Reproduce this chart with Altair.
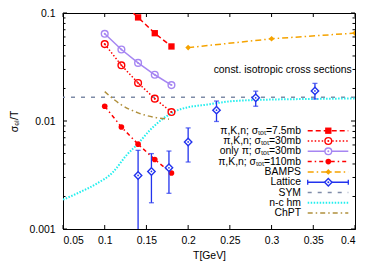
import altair as alt
import pandas as pd

# ---------------- data ----------------
x_sim = [0.12, 0.14, 0.16, 0.18]
s75 = [0.125, 0.091, 0.065, 0.049]
x_sim5 = [0.10, 0.12, 0.14, 0.16, 0.18]
s30 = [0.0515, 0.0328, 0.0225, 0.0161, 0.0121]
pi30 = [0.0642, 0.0459, 0.0345, 0.0268, 0.0215]
s110 = [0.0137, 0.0088, 0.0061, 0.0044, 0.0033]

bamps_x = [0.2, 0.3, 0.4]
bamps_y = [0.0478, 0.0577, 0.0652]

lat_x = [0.14, 0.156, 0.177, 0.2, 0.234, 0.281, 0.352]
lat_y = [0.00313, 0.00341, 0.00369, 0.0064, 0.0126, 0.0164, 0.019]
lat_lo = [0.0008, 0.00175, 0.00214, 0.00417, 0.0099, 0.0137, 0.016]
lat_hi = [0.00535, 0.00499, 0.00527, 0.00863, 0.0153, 0.0189, 0.0223]

sym_y = [0.0166]

nc_x = [0.05, 0.07, 0.09, 0.11, 0.126, 0.14, 0.154, 0.17, 0.19, 0.226, 0.25, 0.3, 0.35, 0.4]
nc_y = [0.00187, 0.00219, 0.00262, 0.00337, 0.00481, 0.00618, 0.0082, 0.01055, 0.0128,
        0.0143, 0.0152, 0.0158, 0.0160, 0.0162]

chpt_x = [0.1, 0.12, 0.14, 0.16, 0.177]
chpt_y = [0.0187, 0.0141, 0.0119, 0.0108, 0.0104]

x_ticks = [0.05, 0.1, 0.15, 0.2, 0.25, 0.3, 0.35, 0.4]
y_major = [0.001, 0.01, 0.1]
y_minor = [m * d for d in (0.001, 0.01) for m in range(2, 10)]

note_text = ["const. isotropic cross sections"]
note_x = [0.396]
note_y = [0.0297]

legend_labels = [
    "π,K,n; σₜₒₜ=7.5mb",
    "π,K,n; σₜₒₜ=30mb",
    "only π; σₜₒₜ=30mb",
    "π,K,n; σₜₒₜ=110mb",
    "BAMPS",
    "Lattice",
    "SYM",
    "n-c hm",
    "ChPT",
]

# ---------------- styles ----------------
RED = "#ff0000"
PURPLE = "#a686f2"
ORANGE = "#f5a300"
BLUE = "#2233ee"
GREY = "#7f8ca8"
CYAN = "#22eeee"
OLIVE = "#b0903c"
FONT = "Liberation Sans"
FS = 10.4
W, H = 292, 216

XS = alt.Scale(domain=[0.05, 0.4], nice=False, zero=False)
YS = alt.Scale(type="log", domain=[0.001, 0.1], nice=False)
XA = alt.Axis(values=x_ticks, format="~g", ticks=False, tickSize=0, grid=False,
              labelPadding=6, labelFont=FONT, labelFontSize=FS, labelColor="black",
              domainColor="black", title="T[GeV]", titleFont=FONT, titleFontSize=FS,
              titleFontWeight="normal", titleX=W / 2, titleY=26, titleBaseline="middle")
YA = alt.Axis(values=y_major, format="~g", ticks=False, tickSize=0, grid=False,
              labelPadding=8, labelFont=FONT, labelFontSize=FS, labelColor="black",
              domainColor="black", title="σₑₗ/T", titleFont=FONT, titleFontSize=FS,
              titleFontWeight="normal", titleX=-49, titleY=H / 2, titleAngle=-90,
              titleAlign="center", titleBaseline="middle")


def X(f="x"):
    return alt.X(f"{f}:Q", scale=XS, axis=XA)


def Y(f="y"):
    return alt.Y(f"{f}:Q", scale=YS, axis=YA)


def df(xs, ys):
    return pd.DataFrame({"x": xs, "y": ys})


layers = []


def series(xs, ys, color, dash, shape, filled, size, sw=1.5, dot=False, interp="linear"):
    d = df(xs, ys)
    line_kw = dict(color=color, strokeWidth=sw, clip=True, interpolate=interp)
    if dash:
        line_kw["strokeDash"] = dash
    layers.append(alt.Chart(d).mark_line(**line_kw).encode(x=X(), y=Y()))
    if shape:
        layers.append(alt.Chart(d).mark_point(shape=shape, filled=filled, size=size, color=color,
                                              strokeWidth=1.4, opacity=1, clip=True)
                      .encode(x=X(), y=Y()))
        if dot:
            layers.append(alt.Chart(d).mark_point(shape="circle", filled=True, size=4, color=color,
                                                  opacity=1, clip=True).encode(x=X(), y=Y()))


# SYM
layers.append(alt.Chart(pd.DataFrame({"y": sym_y})).mark_rule(color=GREY, strokeWidth=1.5,
                                                               strokeDash=[4, 6])
              .encode(y=Y()))
# n-c hm
series(nc_x, nc_y, CYAN, [1.5, 1.5], None, False, 0, sw=2, interp="monotone")
# ChPT
series(chpt_x, chpt_y, OLIVE, [5, 3, 1.5, 3], None, False, 0, sw=1.5, interp="monotone")
# simulations
series(x_sim, s75, RED, [5, 3], "square", True, 40)
series(x_sim5, s30, RED, [1.5, 2], "circle", False, 45, dot=True)
series(x_sim5, pi30, PURPLE, None, "circle", False, 45, dot=True)
series(x_sim5, s110, RED, [4, 3, 1.5, 3], "circle", True, 32)
series(bamps_x, bamps_y, ORANGE, [6, 3, 1.5, 3], "diamond", True, 32)

# Lattice
lat = pd.DataFrame({"x": lat_x, "y": lat_y, "lo": lat_lo, "hi": lat_hi})
layers.append(alt.Chart(lat).mark_rule(color=BLUE, strokeWidth=1.3, clip=True)
              .encode(x=X(), y=Y("lo"), y2="hi:Q"))
for f in ("lo", "hi"):
    layers.append(alt.Chart(lat).mark_tick(color=BLUE, orient="horizontal", size=5,
                                           thickness=1.3, clip=True)
                  .encode(x=X(), y=Y(f)))
layers.append(alt.Chart(lat).mark_point(shape="diamond", filled=True, size=55, color="white",
                                        opacity=1, clip=True).encode(x=X(), y=Y()))
layers.append(alt.Chart(lat).mark_point(shape="diamond", filled=False, size=55, color=BLUE,
                                        strokeWidth=1.4, opacity=1, clip=True)
              .encode(x=X(), y=Y()))
layers.append(alt.Chart(lat).mark_point(shape="circle", filled=True, size=3, color=BLUE,
                                        opacity=1, clip=True).encode(x=X(), y=Y()))

# annotation
layers.append(alt.Chart(pd.DataFrame({"x": note_x, "y": note_y, "t": note_text}))
              .mark_text(align="right", baseline="middle", font=FONT, fontSize=FS, color="black")
              .encode(x=X(), y=Y(), text="t:N"))

# inward ticks
xt = pd.DataFrame({"x": x_ticks})
tick_kw = dict(color="black", strokeWidth=1)
layers.append(alt.Chart(xt).mark_rule(**tick_kw).encode(x=X(), y=alt.value(H), y2=alt.value(H - 4)))
layers.append(alt.Chart(xt).mark_rule(**tick_kw).encode(x=X(), y=alt.value(0), y2=alt.value(4)))
ymj = pd.DataFrame({"y": y_major})
ymn = pd.DataFrame({"y": y_minor})
for d, L in ((ymj, 4), (ymn, 2.5)):
    layers.append(alt.Chart(d).mark_rule(**tick_kw).encode(y=Y(), x=alt.value(0), x2=alt.value(L)))
    layers.append(alt.Chart(d).mark_rule(**tick_kw).encode(y=Y(), x=alt.value(W - L), x2=alt.value(W)))

# legend (layout constants)
LEG_Y0, LEG_DY = 117.7, 10.3
LEG_TX, LEG_L1, LEG_L2, LEG_M = 238, 244.7, 285.3, 265.3
leg_styles = [
    dict(color=RED, dash=[5, 3], shape="square", filled=True, size=40),
    dict(color=RED, dash=[1.5, 2], shape="circle", filled=False, size=45, dot=True),
    dict(color=PURPLE, dash=None, shape="circle", filled=False, size=45, dot=True),
    dict(color=RED, dash=[4, 3, 1.5, 3], shape="circle", filled=True, size=32),
    dict(color=ORANGE, dash=[6, 3, 1.5, 3], shape="diamond", filled=True, size=32),
    dict(color=BLUE, dash=None, shape="diamond", filled=False, size=55, caps=True, dot=True),
    dict(color=GREY, dash=[4, 6], shape=None),
    dict(color=CYAN, dash=[1.5, 1.5], shape=None, sw=2),
    dict(color=OLIVE, dash=[5, 3, 1.5, 3], shape=None),
]
one = pd.DataFrame({"a": [0]})
for i, (lab, st) in enumerate(zip(legend_labels, leg_styles)):
    yy = LEG_Y0 + i * LEG_DY
    layers.append(alt.Chart(pd.DataFrame({"t": [lab]})).mark_text(
        align="right", baseline="middle", font=FONT, fontSize=FS, color="black")
        .encode(text="t:N", x=alt.value(LEG_TX), y=alt.value(yy)))
    rk = dict(color=st["color"], strokeWidth=st.get("sw", 1.5))
    if st["dash"]:
        rk["strokeDash"] = st["dash"]
    layers.append(alt.Chart(one).mark_rule(**rk).encode(
        x=alt.value(LEG_L1), x2=alt.value(LEG_L2), y=alt.value(yy)))
    if st.get("caps"):
        for xx in (LEG_L1, LEG_L2):
            layers.append(alt.Chart(one).mark_rule(color=st["color"], strokeWidth=1.3).encode(
                x=alt.value(xx), y=alt.value(yy - 2.5), y2=alt.value(yy + 2.5)))
    if st["shape"]:
        if not st["filled"]:
            layers.append(alt.Chart(one).mark_point(shape=st["shape"], filled=True, size=st["size"],
                                                    color="white", opacity=1)
                          .encode(x=alt.value(LEG_M), y=alt.value(yy)))
        layers.append(alt.Chart(one).mark_point(shape=st["shape"], filled=st["filled"], size=st["size"],
                                                color=st["color"], strokeWidth=1.4, opacity=1)
                      .encode(x=alt.value(LEG_M), y=alt.value(yy)))
        if st.get("dot"):
            layers.append(alt.Chart(one).mark_point(shape="circle", filled=True, size=4,
                                                    color=st["color"], opacity=1)
                          .encode(x=alt.value(LEG_M), y=alt.value(yy)))

chart = alt.layer(*layers).properties(
    width=W, height=H,
    autosize=alt.AutoSizeParams(type="none"),
    padding={"left": 55, "top": 5, "right": 10, "bottom": 33},
    background="white",
).configure_view(stroke="black", strokeWidth=1).configure_axis(domainWidth=1)

chart.save("out.html", embed_options={"renderer": "svg", "actions": False})
